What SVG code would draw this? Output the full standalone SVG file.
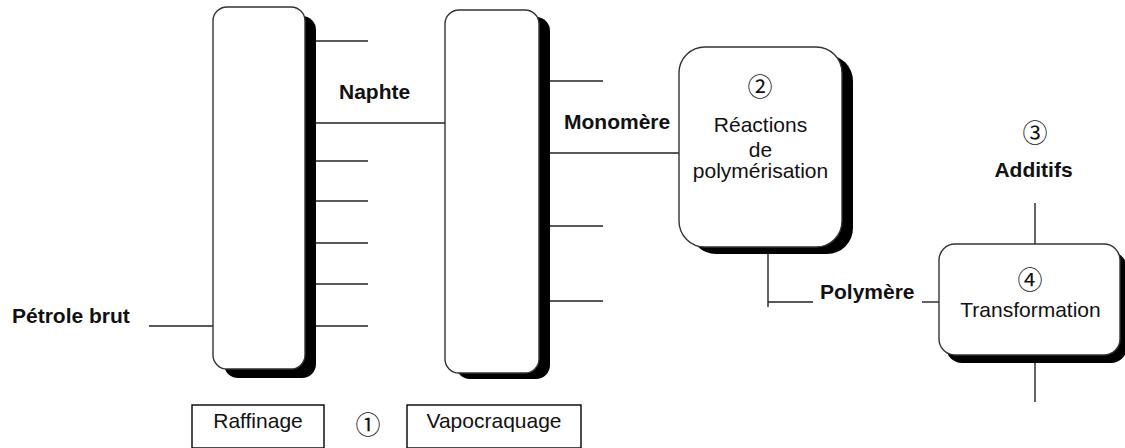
<svg xmlns="http://www.w3.org/2000/svg" width="1125" height="448" viewBox="0 0 1125 448">
<style>
.box{fill:#fff;stroke:#333;stroke-width:1.4}
.sh{fill:#000}
.lbl{fill:#fff;stroke:#000;stroke-width:1.4}
.ln{stroke:#222;stroke-width:1.4;fill:none}
.t{font-family:"Liberation Sans",Arial,sans-serif;font-size:21px;fill:#111}
.b{font-weight:bold}
.c{text-anchor:middle}
.n{font-family:"Noto Sans CJK JP","DejaVu Sans",sans-serif;font-size:25px;fill:#111;text-anchor:middle}
</style>
<rect width="1125" height="448" fill="#fff"/>
<g id="connectors">
<line class="ln" x1="149" y1="326" x2="213" y2="326"/>
<line class="ln" x1="316" y1="41" x2="368" y2="41"/>
<line class="ln" x1="316" y1="123" x2="446" y2="123"/>
<line class="ln" x1="316" y1="161" x2="368" y2="161"/>
<line class="ln" x1="316" y1="201" x2="368" y2="201"/>
<line class="ln" x1="316" y1="243" x2="368" y2="243"/>
<line class="ln" x1="316" y1="284" x2="368" y2="284"/>
<line class="ln" x1="316" y1="326" x2="368" y2="326"/>
<line class="ln" x1="550" y1="81" x2="603" y2="81"/>
<line class="ln" x1="550" y1="153" x2="679" y2="153"/>
<line class="ln" x1="550" y1="226" x2="603" y2="226"/>
<line class="ln" x1="550" y1="301" x2="603" y2="301"/>
<polyline class="ln" points="768,253 768,307"/>
<line class="ln" x1="768" y1="302" x2="813" y2="302"/>
<line class="ln" x1="922" y1="302" x2="939" y2="302"/>
<line class="ln" x1="1035" y1="203" x2="1035" y2="244"/>
<line class="ln" x1="1035" y1="363" x2="1035" y2="402"/>
</g>
<g id="raffinage">
<rect class="sh" x="224" y="16" width="92" height="362" rx="14"/>
<rect class="box" x="213" y="7" width="92" height="362" rx="14"/>
</g>
<g id="vapocraquage">
<rect class="sh" x="456" y="17" width="94" height="362" rx="14"/>
<rect class="box" x="445" y="10" width="94" height="363" rx="14"/>
</g>
<g id="reactions">
<rect class="sh" x="690" y="55" width="163" height="199" rx="26"/>
<rect class="box" x="679" y="47" width="163" height="200" rx="26"/>
<text class="n" x="760" y="96">②</text>
<text class="t c" x="760.5" y="132">Réactions</text>
<text class="t c" x="760.5" y="157">de</text>
<text class="t c" x="760.5" y="178">polymérisation</text>
</g>
<g id="transformation">
<rect class="sh" x="946" y="252" width="181" height="111" rx="16"/>
<rect class="box" x="939" y="244" width="181" height="111" rx="16"/>
<text class="n" x="1030" y="289">④</text>
<text class="t c" x="1030.5" y="317">Transformation</text>
</g>
<g id="additifs">
<text class="n" x="1035" y="142">③</text>
<text class="t b c" x="1033.5" y="177">Additifs</text>
</g>
<g id="labels">
<text class="t b" x="12" y="323">Pétrole brut</text>
<text class="t b" x="339" y="99">Naphte</text>
<text class="t b" x="564" y="129">Monomère</text>
<text class="t b" x="820" y="299">Polymère</text>
</g>
<g id="raffinage-label">
<rect class="lbl" x="192" y="405" width="132" height="43"/>
<text class="t c" x="258" y="428">Raffinage</text>
</g>
<g id="step1">
<text class="n" x="368" y="434">①</text>
</g>
<g id="vapocraquage-label">
<rect class="lbl" x="407" y="405" width="174" height="43"/>
<text class="t c" x="494" y="428">Vapocraquage</text>
</g>
</svg>
